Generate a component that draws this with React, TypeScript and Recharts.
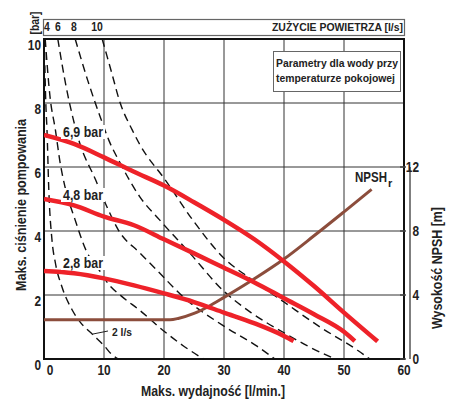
import React from 'react';
import {
  ComposedChart,
  Line,
  XAxis,
  YAxis,
  CartesianGrid,
  ReferenceArea,
  ReferenceLine,
} from 'recharts';

// flow axis, l/min
const flowTicks = [0, 10, 20, 30, 40, 50, 60];
const pressureTicks = [0, 2, 4, 6, 8, 10];
const npshTicks = [0, 4, 8, 12];

// pump curves at given air inlet pressure: flow (l/min) -> discharge pressure (bar)
const flow69 = [0, 5, 10, 15, 20, 25, 30, 35, 40, 45, 50, 55.6];
const press69 = [7.0, 6.72, 6.3, 5.85, 5.42, 4.9, 4.35, 3.75, 3.05, 2.28, 1.45, 0.55];

const flow48 = [0, 5, 10, 15, 20, 25, 30, 35, 40, 45, 50, 51.8];
const press48 = [5.0, 4.8, 4.45, 4.18, 3.74, 3.3, 2.85, 2.4, 1.9, 1.4, 0.85, 0.56];

const flow28 = [0, 5, 10, 15, 20, 25, 30, 35, 40, 41.6];
const press28 = [2.75, 2.68, 2.52, 2.3, 2.05, 1.78, 1.45, 1.12, 0.72, 0.56];

// NPSHr, m
const flowNpsh = [0, 21, 22.5, 25, 27.5, 30, 35, 40, 45, 50, 54.6];
const npshValues = [2.45, 2.45, 2.55, 2.85, 3.3, 3.85, 5.0, 6.25, 7.7, 9.2, 10.6];

// air consumption lines (2, 4, 6, 8, 10 l/s)
const air2Flow = [0.05, 0.3, 0.5, 0.8, 1.33, 1.9, 3.0, 4.7, 6.0, 8.2, 10, 11.3, 12.4];
const air2Press = [10, 8, 7.16, 5.28, 3.72, 3.0, 2.25, 1.53, 1.16, 0.75, 0.42, 0.14, 0];

const air4Flow = [0.2, 1.0, 1.9, 2.7, 3.5, 5.2, 7.0, 9.3, 10.5, 13, 15.9, 19.8, 23.3, 26.6];
const air4Press = [10, 8.2, 7.16, 6.12, 5.38, 4.34, 3.4, 2.75, 2.4, 1.95, 1.53, 0.9, 0.4, 0];

const air6Flow = [2.3, 3.7, 5.0, 5.8, 8.6, 10.5, 12.4, 16, 18.8, 23.2, 29.8, 35.5, 38.5];
const air6Press = [10, 8.5, 7.4, 6.84, 5.6, 4.75, 4.03, 3.31, 2.78, 1.94, 1.05, 0.4, 0];

const air8Flow = [5.2, 7.3, 9.3, 10.8, 12.7, 16, 19.3, 24.3, 29.8, 34.5, 40, 44, 48.5];
const air8Press = [10, 8.7, 7.6, 6.84, 6.12, 5.06, 4.34, 3.31, 2.15, 1.45, 0.82, 0.4, 0];

const air10Flow = [9.7, 11.2, 12.7, 14.7, 16, 20.2, 24.8, 30, 34.5, 40, 46, 52.2, 54.3];
const air10Press = [10, 9.0, 8.0, 7.16, 6.69, 5.6, 4.34, 3.15, 2.5, 1.78, 1.0, 0.28, 0];

const airLabels = ['4', '6', '8', '10'];

const toPoints = (q: number[], v: number[], key: string) =>
  q.map((x, i) => ({ q: x, [key]: v[i] }));

const pump69 = toPoints(flow69, press69, 'p');
const pump48 = toPoints(flow48, press48, 'p');
const pump28 = toPoints(flow28, press28, 'p');
const npsh = toPoints(flowNpsh, npshValues, 'h');
const airLines = [
  toPoints(air2Flow, air2Press, 'p'),
  toPoints(air4Flow, air4Press, 'p'),
  toPoints(air6Flow, air6Press, 'p'),
  toPoints(air8Flow, air8Press, 'p'),
  toPoints(air10Flow, air10Press, 'p'),
];

const FONT = "'Liberation Sans', Arial, sans-serif";
const RED = '#ee2229';
const BROWN = '#8c4d3c';
const INK = '#222';

// bold condensed text: glyphs are squeezed into the given width
const T = ({ x = 0, y = 0, w, size = 14, anchor = 'start', transform, children, ...rest }: any) => (
  <text
    x={x}
    y={y}
    transform={transform}
    textAnchor={anchor}
    fontFamily={FONT}
    fontWeight="bold"
    fontSize={size}
    fill={INK}
    textLength={w}
    lengthAdjust={w ? 'spacingAndGlyphs' : undefined}
    {...rest}
  >
    {children}
  </text>
);

const numWidth = (v: number) => String(v).length * 6.6;

const LeftTick = ({ x, y, payload }: any) => (
  <T x={x} y={y} dy={11} anchor="end" w={numWidth(payload.value)}>
    {payload.value}
  </T>
);

const BottomTick = ({ x, y, payload }: any) => (
  <T x={payload.value === 0 ? x + 6 : x} y={y} dy={12} anchor="middle" w={numWidth(payload.value)}>
    {payload.value}
  </T>
);

const NpshTick = ({ x, y, payload }: any) => (
  <g>
    <line x1={x - 4} x2={x + 2} y1={y} y2={y} stroke="#444" strokeWidth={1.5} />
    <T x={x + 15} y={y} dy={5} anchor="end" w={numWidth(payload.value)}>
      {payload.value}
    </T>
  </g>
);

const CurveLabel = ({ x, y, text }: { x: number; y: number; text: string }) => (
  <g>
    <rect x={x - 2} y={y - 12} width={44} height={14} fill="#fff" />
    <T x={x} y={y} w={40}>
      {text}
    </T>
  </g>
);

export default function App() {
  return (
    <div style={{ position: 'absolute', left: 0, top: 0, width: 456, height: 399, background: '#fff' }}>
      <ComposedChart width={456} height={399} margin={{ top: 39, right: 0, bottom: 18, left: 0 }}>
        <XAxis
          dataKey="q"
          type="number"
          domain={[0, 60]}
          ticks={flowTicks}
          allowDataOverflow
          axisLine={false}
          tickLine={false}
          tickSize={0}
          tickMargin={4}
          height={22}
          tick={<BottomTick />}
        />
        <YAxis
          yAxisId="left"
          domain={[0, 10]}
          ticks={pressureTicks}
          width={44}
          axisLine={false}
          tickLine={false}
          tickSize={0}
          tickMargin={3}
          tick={<LeftTick />}
        />
        <YAxis yAxisId="pad" orientation="right" domain={[0, 10]} width={6} tick={false} axisLine={false} tickLine={false} />
        <YAxis
          yAxisId="npsh"
          orientation="right"
          domain={[0, 20]}
          ticks={npshTicks}
          width={46}
          axisLine={false}
          tickLine={false}
          tickSize={0}
          tickMargin={0}
          tick={<NpshTick />}
        />
        <CartesianGrid yAxisId="left" stroke="#333" strokeWidth={1} />
        <ReferenceArea yAxisId="left" x1={0} x2={60} y1={0} y2={10} fill="none" stroke="#111" strokeWidth={2} ifOverflow="visible" />
        <ReferenceLine
          yAxisId="npsh"
          segment={[{ x: 61, y: 0 }, { x: 61, y: 12 }]}
          stroke="#555"
          strokeWidth={1.5}
          ifOverflow="visible"
        />
        {airLines.map((pts, i) => (
          <Line
            key={i}
            yAxisId="left"
            data={pts}
            dataKey="p"
            type="monotone"
            stroke="#111"
            strokeWidth={1.4}
            strokeDasharray="8 5"
            dot={false}
            isAnimationActive={false}
          />
        ))}
        <Line yAxisId="npsh" data={npsh} dataKey="h" type="monotone" stroke={BROWN} strokeWidth={3} dot={false} isAnimationActive={false} />
        <Line yAxisId="left" data={pump69} dataKey="p" type="monotone" stroke={RED} strokeWidth={4.5} dot={false} isAnimationActive={false} />
        <Line yAxisId="left" data={pump48} dataKey="p" type="monotone" stroke={RED} strokeWidth={4.5} dot={false} isAnimationActive={false} />
        <Line yAxisId="left" data={pump28} dataKey="p" type="monotone" stroke={RED} strokeWidth={4.5} dot={false} isAnimationActive={false} />
      </ComposedChart>

      <svg width={456} height={399} style={{ position: 'absolute', left: 0, top: 0, pointerEvents: 'none' }}>
        {/* air consumption band */}
        <rect x={43.5} y={19.5} width={361} height={16} fill="#fff" stroke="#666" strokeWidth={1.2} />
        {airLabels.map((t, i) => (
          <T key={t} x={[47, 58, 74, 97][i]} y={31} anchor="middle" size={12} w={t.length * 5.8}>
            {t}
          </T>
        ))}
        <T x={403} y={31} anchor="end" size={11.5} w={131}>
          ZUŻYCIE POWIETRZA [l/s]
        </T>
        <T transform="translate(39 23) rotate(-90)" anchor="middle" size={13} w={23}>
          [bar]
        </T>

        {/* note */}
        <rect x={273.5} y={51.5} width={127} height={40} fill="#fff" stroke="#666" strokeWidth={1} />
        <T x={276} y={67} size={11} w={122}>
          Parametry dla wody przy
        </T>
        <T x={276} y={82} size={11} w={119}>
          temperaturze pokojowej
        </T>

        <CurveLabel x={63} y={137} text="6,9 bar" />
        <CurveLabel x={63} y={200} text="4,8 bar" />
        <CurveLabel x={63} y={268} text="2,8 bar" />

        <text x={355} y={182} fontFamily={FONT} fontWeight="bold" fontSize={14} fill={INK}>
          <tspan textLength={32} lengthAdjust="spacingAndGlyphs">NPSH</tspan>
          <tspan dx={1} dy={5} fontSize={11}>r</tspan>
        </text>

        <line x1={93} y1={334} x2={108} y2={331} stroke={INK} strokeWidth={1} />
        <T x={112} y={336} size={11} w={20}>
          2 l/s
        </T>

        {/* axis titles */}
        <T transform="translate(26 205) rotate(-90)" anchor="middle" w={172}>
          Maks. ciśnienie pompowania
        </T>
        <T transform="translate(442 268) rotate(-90)" anchor="middle" w={122}>
          Wysokość NPSH [m]
        </T>
        <T x={213} y={396} anchor="middle" w={144}>
          Maks. wydajność [l/min.]
        </T>
      </svg>
    </div>
  );
}
